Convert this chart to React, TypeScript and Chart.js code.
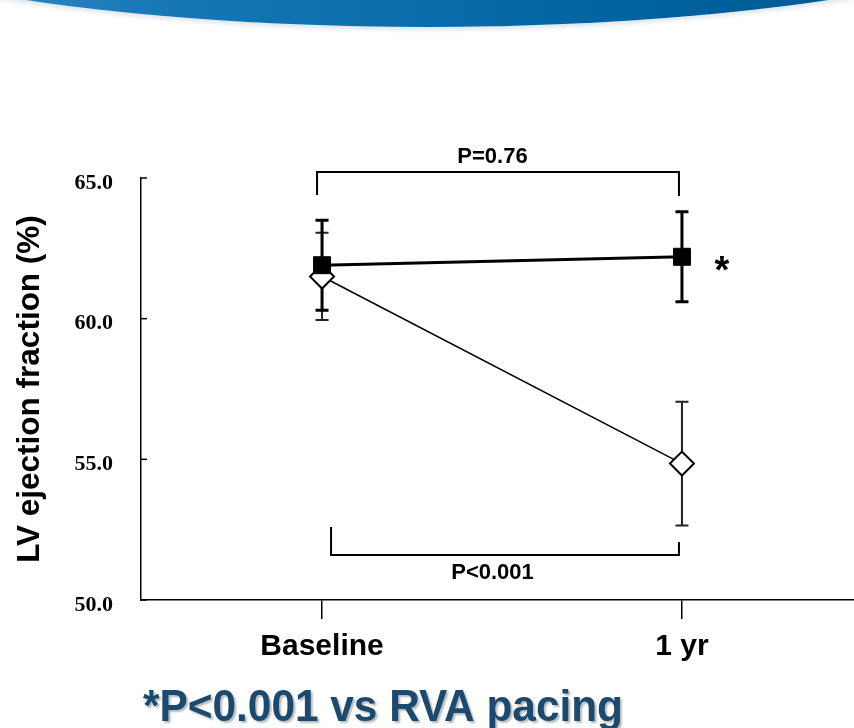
import { useEffect, useRef } from "react";
import { Chart, registerables } from "chart.js";

Chart.register(...registerables);

// ---- data ----
const categories = ["Baseline", "1 yr"];
const altMean = [61.9, 62.2]; // filled squares (alternative-site pacing)
const altSd = [1.6, 1.6];
const rvaMean = [61.5, 54.85]; // open diamonds (RVA pacing)
const rvaSd = [1.55, 2.2];
const yTickValues = [50, 55, 60, 65];
const yTitle = "LV ejection fraction (%)";
const topP = "P=0.76";
const bottomP = "P<0.001";
const footnote = "*P<0.001 vs RVA pacing";

const SANS = "'Liberation Sans', Arial, sans-serif";
const SERIF = "'Liberation Serif', 'Times New Roman', serif";

const decorations = {
  id: "decorations",
  beforeDatasetsDraw(chart: any) {
    const { ctx, scales } = chart;
    const xs = scales.x;
    const ys = scales.y;
    const drawBars = (mean: number[], sd: number[], color: string, lw: number) => {
      ctx.save();
      ctx.strokeStyle = color;
      ctx.lineWidth = lw;
      mean.forEach((m, i) => {
        const x = xs.getPixelForValue(i);
        const yt = ys.getPixelForValue(m + sd[i]);
        const yb = ys.getPixelForValue(m - sd[i]);
        ctx.beginPath();
        ctx.moveTo(x, yt);
        ctx.lineTo(x, yb);
        ctx.moveTo(x - 6.5, yt);
        ctx.lineTo(x + 6.5, yt);
        ctx.moveTo(x - 6.5, yb);
        ctx.lineTo(x + 6.5, yb);
        ctx.stroke();
      });
      ctx.restore();
    };
    drawBars(rvaMean, rvaSd, "#222", 2);
    drawBars(altMean, altSd, "#000", 3);
  },
  afterDraw(chart: any) {
    const { ctx, scales, chartArea } = chart;
    const xs = scales.x;
    const ys = scales.y;
    ctx.save();
    // inner y ticks
    ctx.strokeStyle = "#000";
    ctx.lineWidth = 1.5;
    yTickValues.forEach((v) => {
      const y = ys.getPixelForValue(v);
      ctx.beginPath();
      ctx.moveTo(chartArea.left, y);
      ctx.lineTo(chartArea.left + 6, y);
      ctx.stroke();
    });

    const x0 = xs.getPixelForValue(0);
    const x1 = xs.getPixelForValue(1);
    const yTop = ys.getPixelForValue(65);
    const yBot = ys.getPixelForValue(50);

    // top bracket
    ctx.lineWidth = 2;
    ctx.beginPath();
    ctx.moveTo(x0 - 5, yTop + 17);
    ctx.lineTo(x0 - 5, yTop - 6);
    ctx.lineTo(x1 - 3, yTop - 6);
    ctx.lineTo(x1 - 3, yTop + 18);
    ctx.stroke();
    // bottom bracket
    ctx.beginPath();
    ctx.moveTo(x0 + 9, yBot - 73);
    ctx.lineTo(x0 + 9, yBot - 45);
    ctx.lineTo(x1 - 3, yBot - 45);
    ctx.lineTo(x1 - 3, yBot - 58);
    ctx.stroke();

    ctx.fillStyle = "#000";
    ctx.textAlign = "center";
    ctx.textBaseline = "alphabetic";
    ctx.font = `bold 22px ${SANS}`;
    ctx.fillText(topP, 492.5, yTop - 15);
    ctx.fillText(bottomP, 492.5, yBot - 21);

    // significance star
    ctx.font = `bold 38px ${SANS}`;
    ctx.fillText("*", x1 + 40, ys.getPixelForValue(altMean[1]) + 26);

    // footnote
    ctx.font = `bold 44px ${SANS}`;
    const w = ctx.measureText(footnote).width;
    ctx.translate(143, 721);
    ctx.scale(480 / w, 1);
    ctx.textAlign = "left";
    ctx.shadowColor = "rgba(0,0,0,0.28)";
    ctx.shadowOffsetX = 2;
    ctx.shadowOffsetY = 2;
    ctx.shadowBlur = 2;
    ctx.fillStyle = "#1b4a6e";
    ctx.fillText(footnote, 0, 0);
    ctx.restore();
  },
};

export default function App() {
  const canvasRef = useRef<HTMLCanvasElement | null>(null);

  useEffect(() => {
    const canvas = canvasRef.current;
    if (!canvas) return;
    const chart = new Chart(canvas, {
      type: "line",
      data: {
        datasets: [
          {
            label: "Alternative site",
            data: altMean.map((v, i) => ({ x: i, y: v })),
            borderColor: "#000",
            borderWidth: 3,
            pointStyle: "rect",
            pointRadius: 12,
            pointBackgroundColor: "#000",
            pointBorderColor: "#000",
            pointBorderWidth: 1,
          },
          {
            label: "RVA pacing",
            data: rvaMean.map((v, i) => ({ x: i, y: v })),
            borderColor: "#000",
            borderWidth: 1.5,
            pointStyle: "rectRot",
            pointRadius: 12,
            pointBackgroundColor: "#fff",
            pointBorderColor: "#000",
            pointBorderWidth: 2,
          },
        ],
      },
      options: {
        responsive: false,
        animation: false,
        devicePixelRatio: 1,
        layout: { autoPadding: false, padding: { top: 178, left: 0, right: 0, bottom: 0 } },
        plugins: {
          legend: { display: false },
          tooltip: { enabled: false },
        },
        scales: {
          x: {
            type: "linear",
            min: -0.503,
            max: 1.478,
            afterBuildTicks: (scale: any) => {
              scale.ticks = categories.map((_, i) => ({ value: i }));
            },
            afterFit: (scale: any) => {
              scale.height = 128;
              scale.paddingLeft = 0;
              scale.paddingRight = 0;
            },
            grid: {
              drawOnChartArea: false,
              drawTicks: true,
              tickLength: 19,
              color: "#000",
              lineWidth: 1.5,
            },
            border: { display: true, color: "#000", width: 1.5 },
            ticks: {
              autoSkip: false,
              maxRotation: 0,
              padding: 10,
              color: "#000",
              font: { family: SANS, size: 30, weight: "bold" },
              callback: (v: any) => categories[v as number] ?? "",
            },
          },
          y: {
            type: "linear",
            min: 50,
            max: 65,
            afterBuildTicks: (scale: any) => {
              scale.ticks = yTickValues.map((v) => ({ value: v }));
            },
            afterFit: (scale: any) => {
              scale.width = 141;
              scale.paddingTop = 0;
              scale.paddingBottom = 0;
            },
            grid: { drawOnChartArea: false, drawTicks: false },
            border: { display: true, color: "#000", width: 1.5 },
            ticks: {
              padding: 28,
              labelOffset: 5,
              color: "#000",
              font: { family: SERIF, size: 22, weight: "bold" },
              callback: (v: any) => Number(v).toFixed(1),
            },
            title: {
              display: true,
              text: yTitle,
              color: "#000",
              padding: { top: 11, bottom: 0 },
              font: { family: SANS, size: 31.5, weight: "bold" },
            },
          },
        },
      },
      plugins: [decorations],
    } as any);
    return () => chart.destroy();
  }, []);

  return (
    <div
      style={{
        position: "fixed",
        left: 0,
        top: 0,
        width: 854,
        height: 728,
        overflow: "hidden",
        background: "#fff",
      }}
    >
      <div
        style={{
          position: "absolute",
          left: -275,
          top: -273,
          width: 1404,
          height: 300,
          borderRadius: "50%",
          background:
            "linear-gradient(90deg, #2c84c2 20%, #1676b6 32%, #0a6cab 50%, #0062a0 65%, #005a92 80%)",
          boxShadow: "0 3px 4px rgba(120,150,180,0.25)",
        }}
      />
      <canvas
        ref={canvasRef}
        width={854}
        height={728}
        style={{ position: "absolute", left: 0, top: 0, width: 854, height: 728 }}
      />
    </div>
  );
}
